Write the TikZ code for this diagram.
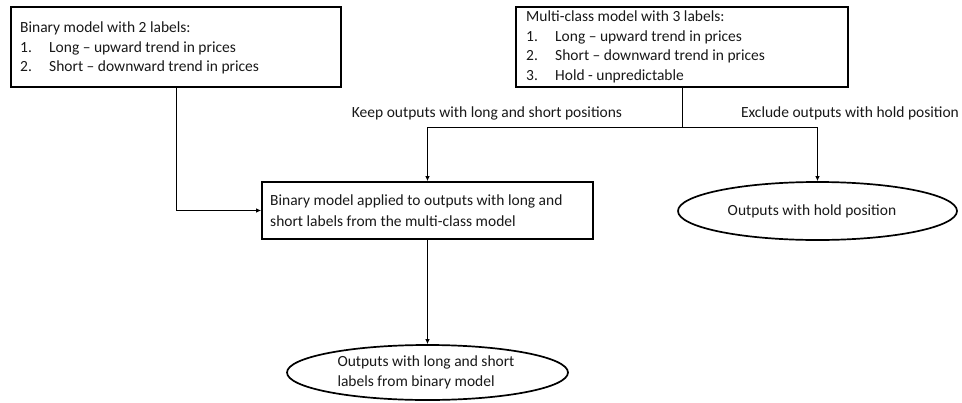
\documentclass[tikz,border=0pt]{standalone}
\usepackage{fontspec}
\setmainfont{Carlito}
\usetikzlibrary{shapes.geometric,arrows.meta}
\newcommand{\itm}[2]{\makebox[29pt][l]{#1}#2}
\begin{document}
\begin{tikzpicture}[x=1pt,y=-1pt,
  every node/.style={font=\fontsize{15.5}{19.5}\selectfont, text=black!90},
  box/.style={draw=black, line width=1.7pt, align=left, inner sep=0pt, anchor=center},
  oval/.style={ellipse, draw=black, line width=1.7pt, align=left, inner sep=0pt},
  conn/.style={draw=black, line width=0.9pt},
  arr/.style={conn, -{Latex[length=5pt,width=4.5pt]}},
  lbl/.style={inner sep=0pt}
]
\useasboundingbox (0,0) rectangle (962,402);
\fill[white] (0,0) rectangle (962,402);

\node[box, minimum width=330pt, minimum height=80pt] (b1) at (176,47) {};
\node[lbl, anchor=west, align=left] (t1) at (20,48) {Binary model with 2 labels:\\\itm{1.}{Long – upward trend in prices}\\\itm{2.}{Short – downward trend in prices}};

\node[box, minimum width=332pt, minimum height=80pt] (b2) at (682,47) {};
\node[lbl, anchor=west, align=left] (t2) at (526,47) {Multi-class model with 3 labels:\\\itm{1.}{Long – upward trend in prices}\\\itm{2.}{Short – downward trend in prices}\\\itm{3.}{Hold - unpredictable}};

\node[box, minimum width=331pt, minimum height=57pt] (b3) at (427.5,210.5) {};
\node[lbl, anchor=west, align=left, font=\fontsize{15.5}{21}\selectfont] (t3) at (270,210.5) {Binary model applied to outputs with long and\\short labels from the multi-class model};

\node[oval, minimum width=279pt, minimum height=58pt] (e1) at (817.5,211) {};
\node[lbl] (te1) at (812,211) {Outputs with hold position};

\node[oval, minimum width=281pt, minimum height=55pt] (e2) at (427.5,372.5) {};
\node[lbl, align=left, font=\fontsize{15.5}{20}\selectfont] (te2) at (426,372) {Outputs with long and short\\labels from binary model};

\node[lbl] (k) at (487,113) {Keep outputs with long and short positions};
\node[lbl] (x) at (850,113) {Exclude outputs with hold position};

\coordinate (j) at (682,127);
\draw[conn] (b2.south) -- (j);
\draw[arr] (j) -| (b3.north);
\draw[arr] (j) -| (e1.north);
\draw[arr] (b1.south) |- (b3.west);
\draw[arr] (b3.south) -- (e2.north);
\end{tikzpicture}
\end{document}
